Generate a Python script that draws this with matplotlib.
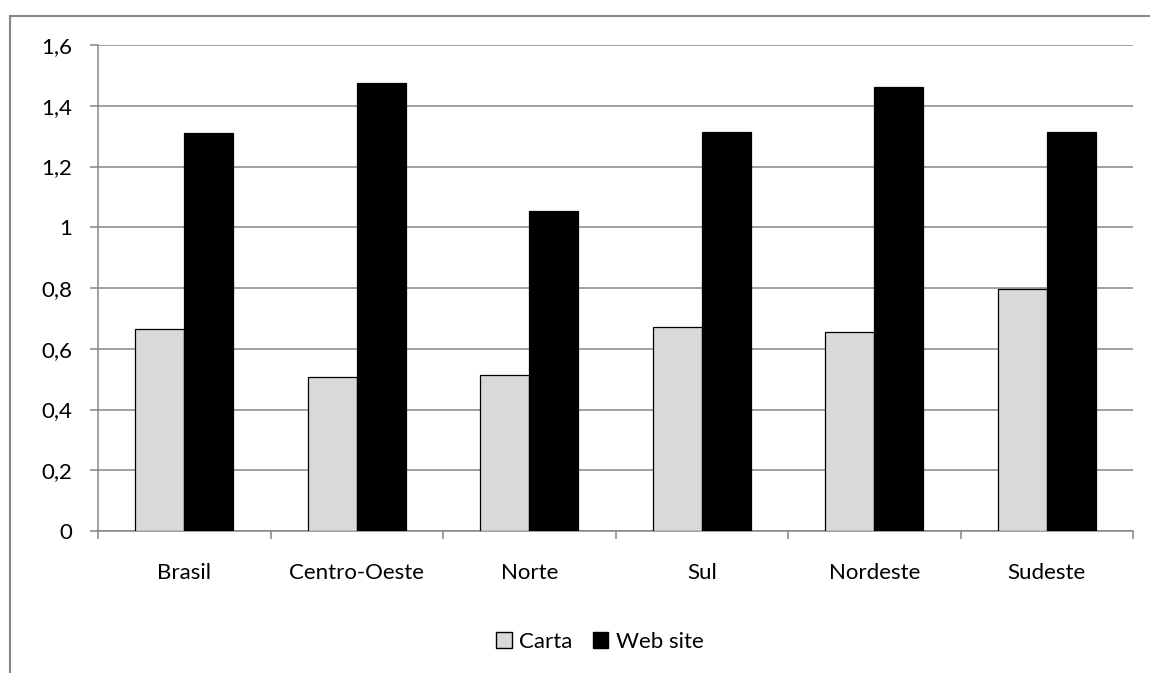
import numpy as np
import matplotlib
matplotlib.use('Agg')
from matplotlib import pyplot as plt
from matplotlib.patches import Patch
from matplotlib.lines import Line2D

plt.rcParams['font.family'] = ['Lato', 'DejaVu Sans']

# dados por região
regioes = ['Brasil', 'Centro-Oeste', 'Norte', 'Sul', 'Nordeste', 'Sudeste']
carta = [0.665, 0.507, 0.514, 0.672, 0.654, 0.798]
web_site = [1.310, 1.474, 1.055, 1.313, 1.462, 1.312]

y_ticks = [0, 0.2, 0.4, 0.6, 0.8, 1.0, 1.2, 1.4, 1.6]
y_labels = ['0', '0,2', '0,4', '0,6', '0,8', '1', '1,2', '1,4', '1,6']

cinza = '#868686'
W, H = 1150, 673

fig = plt.figure(figsize=(W / 100, H / 100), dpi=100)
ax = fig.add_axes([98 / W, 1 - 531 / H, (1133 - 98) / W, (531 - 45) / H])

x = np.arange(len(regioes))
larg = 0.284
ax.bar(x - larg / 2, carta, larg, color='#d9d9d9', edgecolor='black', linewidth=0.9, zorder=3)
ax.bar(x + larg / 2, web_site, larg, color='black', edgecolor='black', linewidth=0.9, zorder=3)

ax.set_xlim(-0.5, len(regioes) - 0.5)
ax.set_ylim(0, 1.6)

# grade e eixos
ax.yaxis.grid(True, color=cinza, linewidth=1.1)
ax.set_axisbelow(True)
for lado in ['top', 'right']:
    ax.spines[lado].set_visible(False)
for lado in ['left', 'bottom']:
    ax.spines[lado].set_color(cinza)
    ax.spines[lado].set_linewidth(1.1)

ax.set_yticks(y_ticks, y_labels)
ax.tick_params(axis='y', length=5.8, width=1.1, color=cinza, pad=13, labelsize=16)

ax.set_xticks(np.arange(-0.5, len(regioes), 1))
ax.set_xticks(x, regioes, minor=True)
ax.tick_params(axis='x', which='major', length=5.8, width=1.1, color=cinza, labelbottom=False)
ax.tick_params(axis='x', which='minor', length=0, pad=23, labelsize=16)

# legenda
itens = [Patch(facecolor='#d9d9d9', edgecolor='black', label='Carta'),
         Patch(facecolor='black', edgecolor='black', label='Web site')]
fig.legend(handles=itens, loc='center', bbox_to_anchor=(600 / W, 1 - 642 / H), ncol=2,
           frameon=False, fontsize=16, handlelength=0.7, handleheight=0.7,
           handletextpad=0.35, columnspacing=0.9)

# borda da área do gráfico
fig.add_artist(Line2D([10 / W, 10 / W], [0, 1 - 15.7 / H], transform=fig.transFigure,
                      color=cinza, linewidth=1.5))
fig.add_artist(Line2D([10 / W, 1], [1 - 15.7 / H, 1 - 15.7 / H], transform=fig.transFigure,
                      color=cinza, linewidth=1.5))

fig.savefig('out.png', dpi=100)
